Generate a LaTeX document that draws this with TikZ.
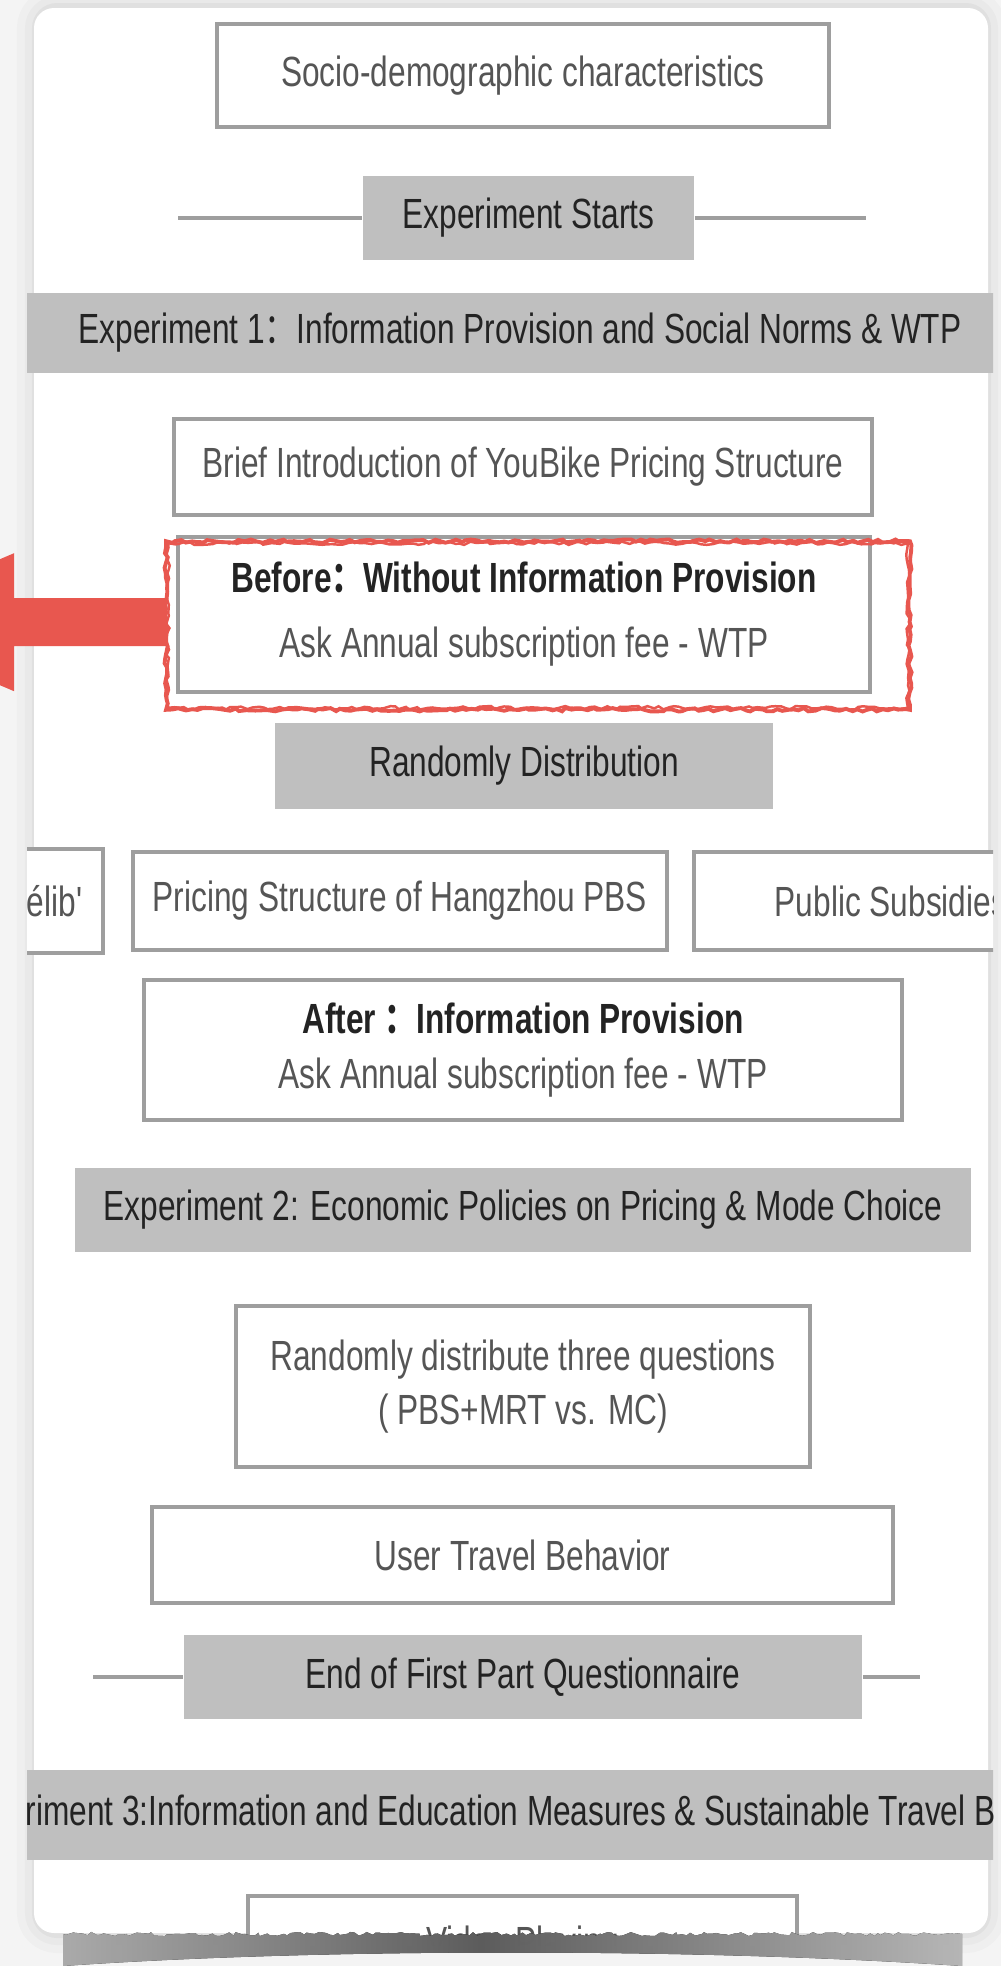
\documentclass[tikz,border=0pt]{standalone}
\usepackage{fontspec}
\setmainfont{Liberation Sans}[FakeStretch=0.75]
\newfontfamily\cjk{Noto Sans CJK SC}[FakeStretch=0.75]
\usetikzlibrary{calc, decorations.pathmorphing}
\definecolor{boxline}{HTML}{9E9E9E}
\definecolor{barfill}{HTML}{BFBFBF}
\definecolor{boxtext}{HTML}{555555}
\definecolor{bartext}{HTML}{232323}
\definecolor{markred}{HTML}{E8574F}
\definecolor{paper}{HTML}{F4F4F4}

\begin{document}
\begin{tikzpicture}[x=0.01cm, y=-0.01cm,
    every node/.style={font=\fontsize{12}{15.5}\selectfont, inner sep=0pt},
    plainbox/.style={draw=boxline, line width=1pt, fill=white, text=boxtext, align=center},
    greybar/.style={fill=barfill, text=bartext, align=center},
    rule/.style={draw=boxline, line width=1pt},
    roughred/.style={draw=markred, line width=1.1pt, decorate,
      decoration={random steps, segment length=1.5pt, amplitude=0.5pt}},
  ]
  \clip (0,0) rectangle (1001,1966);
  \fill[paper] (0,0) rectangle (1001,1966);
  % paper card
  \foreach \w/\o in {4mm/0.02, 2.4mm/0.025, 1mm/0.035}
    \draw[black, opacity=\o, line width=\w, rounded corners=2mm] (37,8) rectangle (986,1933);
  \fill[white, rounded corners=2mm] (34,8) rectangle (988,1933);

  \begin{scope}
    \clip (27,0) rectangle (993,1945);
    \node[plainbox, minimum width=6.12cm, minimum height=1.03cm] (socio) at (523,75.5) {Socio-demographic characteristics};

    \node[greybar, minimum width=3.31cm, minimum height=0.83cm] (start) at (528.5,218) {Experiment Starts};
    \coordinate (startL) at (178,218);
    \coordinate (startR) at (866,218);
    \draw[rule] (startL) -- (start) -- (startR);

    \node[greybar, minimum width=10.2cm, minimum height=0.8cm] (exp1) at (520,333)
      {Experiment 1{\cjk ：}Information Provision and Social Norms \& WTP};

    \node[plainbox, minimum width=6.98cm, minimum height=0.96cm] (brief) at (523,467)
      {Brief Introduction of YouBike Pricing Structure};

    \node[plainbox, minimum width=6.92cm, minimum height=1.55cm] (before) at (524,614.5)
      {{\bfseries\color{bartext}Before{\cjk ：}Without Information Provision}\\[3pt]
       Ask Annual subscription fee - WTP};

    \node[greybar, minimum width=4.98cm, minimum height=0.86cm] (shuffle) at (524,766) {Randomly Distribution};

    % three information treatments
    \node[plainbox, anchor=east, minimum height=1.04cm, inner xsep=0.19cm] (velib) at (105,901) {\llap{V}élib\textquotesingle};
    \node[plainbox, minimum width=5.34cm, minimum height=0.98cm] (hangzhou) at (400,901) {Pricing Structure of Hangzhou PBS};
    \node[plainbox, anchor=west, minimum height=0.98cm, inner xsep=0.81cm] (subsidy) at (692,901) {Public Subsidie\rlap{s}};

    \node[plainbox, minimum width=7.58cm, minimum height=1.4cm] (after) at (523,1050)
      {{\bfseries\color{bartext}After\ {\cjk ：}Information Provision}\\
       Ask Annual subscription fee - WTP};

    \node[greybar, minimum width=8.96cm, minimum height=0.84cm] (exp2) at (523,1210)
      {Experiment 2: Economic Policies on Pricing \& Mode Choice};

    \node[plainbox, minimum width=5.74cm, minimum height=1.61cm] (questions) at (523,1386.5)
      {Randomly distribute three questions\\( PBS+MRT vs. MC)};

    \node[plainbox, minimum width=7.41cm, minimum height=0.96cm] (travel) at (522.5,1555) {User Travel Behavior};

    \node[greybar, minimum width=6.78cm, minimum height=0.83cm] (endpart) at (523,1677) {End of First Part Questionnaire};
    \coordinate (endL) at (93,1677);
    \coordinate (endR) at (920,1677);
    \draw[rule] (endL) -- (endpart) -- (endR);

    \node[greybar, anchor=west, minimum height=0.9cm] (exp3) at (25,1815)
      {\llap{Expe}riment 3:Information and Education Measures \& Sustainable Travel Behavior};

    \node[plainbox, minimum width=5.49cm, minimum height=1.0cm] (video) at (522.5,1946) {Video Playing};
  \end{scope}

  % torn lower edge of the card
  \fill[left color=black!25, right color=black!25, middle color=black!62, opacity=0.95]
    decorate[decoration={random steps, segment length=1.2pt, amplitude=0.6pt}] {(63,1934) -- (962,1934)}
    -- (962,1966) .. controls (700,1948) and (320,1948) .. (63,1966) -- cycle;

  % highlight on the baseline question
  \draw[roughred] ($(before.north west)+(-10,6)$) rectangle ($(before.south east)+(38,16)$);
  \draw[roughred, line width=0.7pt] ($(before.north west)+(-8,8)$) rectangle ($(before.south east)+(36,14)$);
  \coordinate (markW) at ($(before.north west)+(-10,87)$);
  \fill[markred] (markW) ++(0,-24) -- ++(-152,0) -- ++(0,-45) -- ++(-162,69)
    -- ++(162,69) -- ++(0,-45) -- ++(152,0) -- cycle;
\end{tikzpicture}
\end{document}
